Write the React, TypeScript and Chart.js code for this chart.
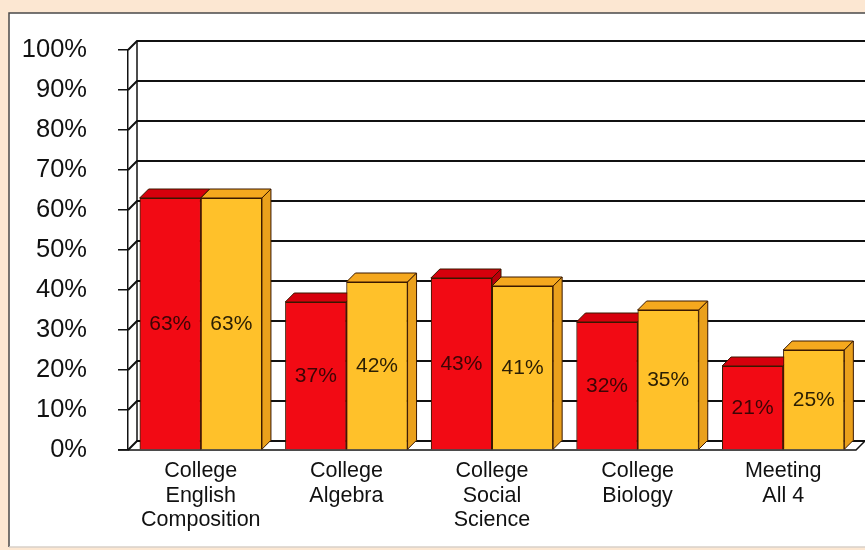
import { useEffect, useRef } from "react";
import { Chart, registerables } from "chart.js";

Chart.register(...registerables);

const categories: string[][] = [
  ["College", "English", "Composition"],
  ["College", "Algebra"],
  ["College", "Social", "Science"],
  ["College", "Biology"],
  ["Meeting", "All 4"],
];
const redValues = [63, 37, 43, 32, 21];
const goldValues = [63, 42, 41, 35, 25];
const yMin = 0;
const yMax = 100;
const yStep = 10;

const DX = 9;
const DY = 9;
const FONT = "'Liberation Sans', Arial, sans-serif";

const faceColors = [
  { front: "#f20a14", top: "#d6000c", side: "#b8000a", label: "#3c0505" },
  { front: "#ffc12a", top: "#f5a81e", side: "#eaa01c", label: "#2a1e04" },
];

const threeD = {
  id: "threeD",
  beforeDraw(chart: any) {
    const { ctx, width, height } = chart;
    ctx.save();
    ctx.fillStyle = "#fce7d2";
    ctx.fillRect(0, 0, width, height);
    ctx.fillStyle = "#ffffff";
    ctx.fillRect(9, 13, width, 534);
    ctx.strokeStyle = "#4a4a4a";
    ctx.lineWidth = 1.5;
    ctx.beginPath();
    ctx.moveTo(9, 547);
    ctx.lineTo(9, 13);
    ctx.lineTo(width + 2, 13);
    ctx.stroke();
    ctx.strokeStyle = "#d8d0c8";
    ctx.beginPath();
    ctx.moveTo(9, 547);
    ctx.lineTo(width, 547);
    ctx.stroke();
    ctx.restore();
  },
  beforeDatasetsDraw(chart: any) {
    const { ctx, chartArea, width } = chart;
    const ys = chart.scales.y;
    const { left, right, top, bottom } = chartArea;
    ctx.save();
    ctx.strokeStyle = "#111";
    ctx.lineWidth = 2;
    for (let v = yMin; v <= yMax; v += yStep) {
      const yy = ys.getPixelForValue(v);
      ctx.beginPath();
      ctx.moveTo(left, yy);
      ctx.lineTo(left + DX, yy - DY);
      ctx.lineTo(width, yy - DY);
      ctx.stroke();
    }
    ctx.lineWidth = 1.5;
    ctx.beginPath();
    ctx.moveTo(left + DX, top - DY);
    ctx.lineTo(left + DX, bottom - DY);
    ctx.stroke();
    // floor
    ctx.beginPath();
    ctx.moveTo(left - 10, bottom);
    ctx.lineTo(right, bottom);
    ctx.lineTo(right + DX, bottom - DY);
    ctx.stroke();
    ctx.restore();
  },
  afterDatasetsDraw(chart: any) {
    const { ctx } = chart;
    const metas = [chart.getDatasetMeta(0), chart.getDatasetMeta(1)];
    const n = metas[0].data.length;
    ctx.save();
    for (let i = 0; i < n; i++) {
      for (let d = 0; d < metas.length; d++) {
        const el = metas[d].data[i];
        const { x, y, base, width } = el.getProps(["x", "y", "base", "width"], true);
        const x0 = x - width / 2;
        const x1 = x + width / 2;
        const c = faceColors[d];
        el.draw(ctx);
        ctx.lineWidth = 1;
        ctx.strokeStyle = "#3a1800";
        ctx.lineJoin = "round";
        // top face
        ctx.fillStyle = c.top;
        ctx.beginPath();
        ctx.moveTo(x0, y);
        ctx.lineTo(x0 + DX, y - DY);
        ctx.lineTo(x1 + DX, y - DY);
        ctx.lineTo(x1, y);
        ctx.closePath();
        ctx.fill();
        ctx.stroke();
        // side face
        ctx.fillStyle = c.side;
        ctx.beginPath();
        ctx.moveTo(x1, y);
        ctx.lineTo(x1 + DX, y - DY);
        ctx.lineTo(x1 + DX, base - DY);
        ctx.lineTo(x1, base);
        ctx.closePath();
        ctx.fill();
        ctx.stroke();
      }
    }
    // value labels
    ctx.font = `21px ${FONT}`;
    ctx.textAlign = "center";
    ctx.textBaseline = "middle";
    for (let d = 0; d < metas.length; d++) {
      const ds = chart.data.datasets[d];
      metas[d].data.forEach((el: any, i: number) => {
        const { x, y, base } = el.getProps(["x", "y", "base"], true);
        ctx.fillStyle = faceColors[d].label;
        ctx.fillText(`${ds.data[i]}%`, x, (y + base) / 2 + 1);
      });
    }
    ctx.restore();
  },
};

export default function App() {
  const ref = useRef<HTMLCanvasElement | null>(null);
  useEffect(() => {
    if (!ref.current) return;
    const chart = new Chart(ref.current, {
      type: "bar",
      data: {
        labels: categories,
        datasets: [
          {
            label: "Red",
            data: redValues,
            backgroundColor: faceColors[0].front,
            borderColor: "#3a1800",
            borderWidth: 1,
            categoryPercentage: 0.84,
            barPercentage: 1.0,
          },
          {
            label: "Gold",
            data: goldValues,
            backgroundColor: faceColors[1].front,
            borderColor: "#3a1800",
            borderWidth: 1,
            categoryPercentage: 0.84,
            barPercentage: 1.0,
          },
        ],
      },
      options: {
        animation: false,
        responsive: true,
        maintainAspectRatio: false,
        layout: { padding: { left: 0, top: 50, right: 9, bottom: 0 } },
        plugins: {
          legend: { display: false },
          tooltip: { enabled: false },
        },
        scales: {
          x: {
            grid: { display: false, drawTicks: false },
            border: { display: false },
            ticks: {
              color: "#111",
              font: { family: FONT, size: 21.5, lineHeight: 1.14 },
              padding: 9,
              maxRotation: 0,
              autoSkip: false,
            },
            afterFit(scale: any) {
              scale.height = 100;
            },
          },
          y: {
            min: yMin,
            max: yMax,
            grid: {
              drawOnChartArea: false,
              drawTicks: true,
              tickLength: 10,
              color: "#111",
              lineWidth: 1.5,
            },
            border: { display: true, color: "#111", width: 1.5 },
            ticks: {
              stepSize: yStep,
              color: "#111",
              padding: 31,
              font: { family: FONT, size: 25.5 },
              callback: (v: any) => `${v}%`,
            },
            afterFit(scale: any) {
              scale.width = 128;
            },
          },
        },
      },
      plugins: [threeD],
    });
    return () => chart.destroy();
  }, []);
  return (
    <div style={{ position: "fixed", left: 0, top: 0, width: 865, height: 550 }}>
      <canvas ref={ref} />
    </div>
  );
}
